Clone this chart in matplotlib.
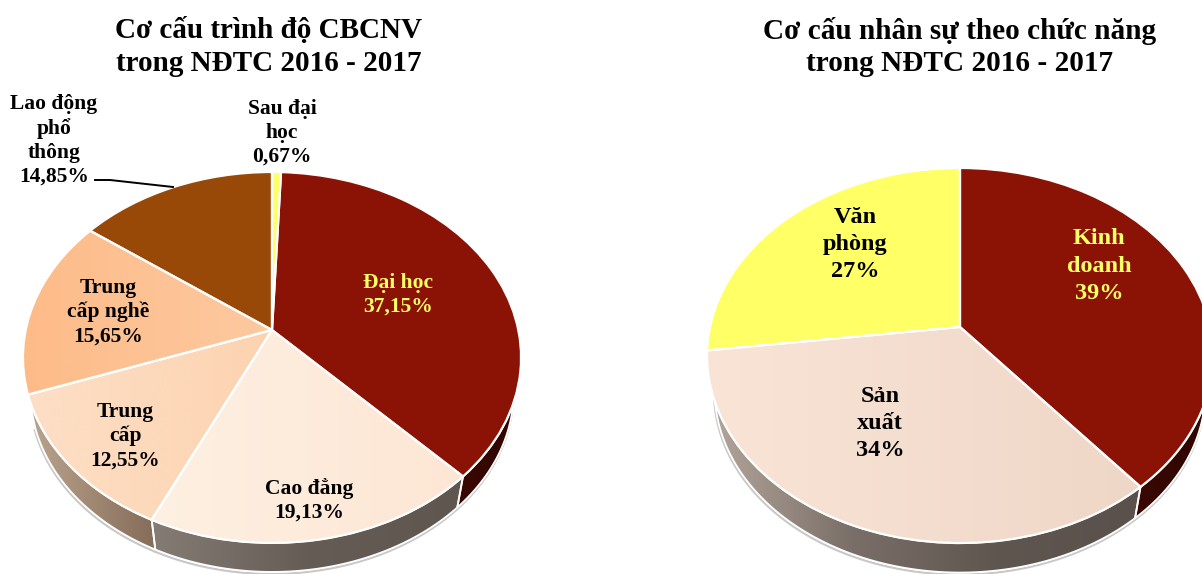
import numpy as np
import matplotlib
matplotlib.use("Agg")
import matplotlib.pyplot as plt
from matplotlib.colors import LinearSegmentedColormap
from matplotlib.patches import Polygon
from matplotlib.transforms import Transform

plt.rcParams['font.family'] = ['Liberation Serif', 'DejaVu Serif']

# left pie
edu_names = ['Sau đại\nhọc', 'Đại học', 'Cao đẳng', 'Trung\ncấp', 'Trung\ncấp nghề', 'Lao động\nphổ\nthông']
edu_values = [0.67, 37.15, 19.13, 12.55, 15.65, 14.85]
edu_texts = ['0,67%', '37,15%', '19,13%', '12,55%', '15,65%', '14,85%']

# right pie
job_names = ['Kinh\ndoanh', 'Sản\nxuất', 'Văn\nphòng']
job_values = [39, 34, 27]
job_texts = ['39%', '34%', '27%']

title_left = 'Cơ cấu trình độ CBCNV\ntrong NĐTC 2016 - 2017'
title_right = 'Cơ cấu nhân sự theo chức năng\ntrong NĐTC 2016 - 2017'

# top face gradients, left and right colour of each slice
edu_top = [('#ffff66', '#ffff66'), ('#8b1305', '#8b1305'), ('#fef0e2', '#fde6d4'),
           ('#fddfc6', '#fdd3b0'), ('#fdbb88', '#fdc9a0'), ('#984807', '#984807')]
job_top = [('#8b1305', '#8b1305'), ('#f9e4d6', '#efd7c7'), ('#ffff66', '#ffff66')]

# side wall gradients
edu_wall = [None, ('#3a0800', '#2e0600'), ('#857c74', '#655c56', '#5f5650'), ('#bca58f', '#846c58'), None, None]
job_wall = [('#3a0800', '#2e0600'), ('#b5a79c', '#7a6f68', '#5f5650', '#5a514c'), None]

edu_label_xy = [(282, 133), (398, 295), (309, 500.5), (125, 436), (108, 312), (54, 140)]
job_label_xy = [(1099, 266), (880, 423.5), (855, 244.5)]


class Tilt(Transform):
    # perspective view of the unit disc, result in pixels
    input_dims = 2
    output_dims = 2

    def __init__(self, cx, cy, rx, ry, k):
        super().__init__()
        self.cx, self.cy, self.rx, self.ry, self.k = cx, cy, rx, ry, k

    def transform_non_affine(self, values):
        values = np.asarray(values, dtype=float)
        w = 1 + self.k * values[:, 1]
        return np.column_stack([self.cx + self.rx * values[:, 0] / w,
                                self.cy - self.ry * values[:, 1] / w])


def gradient(ax, clip, cols, x0, x1, y0, y1, zorder):
    cmap = LinearSegmentedColormap.from_list('g', list(cols))
    im = ax.imshow(np.linspace(0, 1, 256)[None, :], cmap=cmap, extent=(x0, x1, y1, y0),
                   aspect='auto', zorder=zorder, interpolation='bilinear')
    im.set_clip_path(clip)


def draw_pie(ax, values, top_cols, wall_cols, cx, cy, rx, ry, k, depth):
    top = Tilt(cx, cy, rx, ry, k)
    low = Tilt(cx, cy + depth, rx * 0.97, ry * 0.97, k)

    # side walls, only the part of each slice facing the viewer
    edges = 90 - np.concatenate([[0], np.cumsum(values)]) / np.sum(values) * 360
    for i, cols in enumerate(wall_cols):
        if cols is None:
            continue
        t = np.radians(np.linspace(edges[i], edges[i + 1], 120))
        t = t[np.sin(t) < 0.05]
        disc = np.column_stack([np.cos(t), np.sin(t)])
        a = top.transform(disc)
        b = low.transform(disc)
        ax.plot(b[:, 0] - 0.5, b[:, 1] + 2, color='#c8c8c8', lw=1.6, zorder=1)
        wall = Polygon(np.vstack([a, b[::-1]]), closed=True, facecolor='none',
                       edgecolor='none', transform=ax.transData)
        ax.add_patch(wall)
        gradient(ax, wall, cols, min(a[:, 0].min(), b[:, 0].min()),
                 max(a[:, 0].max(), b[:, 0].max()), cy, cy + 300, 2)
        outline = Polygon(np.vstack([a, b[::-1]]), closed=True, fill=False,
                          edgecolor='white', lw=1.3, zorder=3, transform=ax.transData)
        ax.add_patch(outline)

    # top face
    wedges, _ = ax.pie(values, startangle=90, counterclock=False, colors=[c[0] for c in top_cols],
                       wedgeprops={'linewidth': 0, 'zorder': 4})
    frames, _ = ax.pie(values, startangle=90, counterclock=False,
                       wedgeprops={'fill': False, 'edgecolor': 'white', 'linewidth': 1.6, 'zorder': 6})
    for w in list(wedges) + list(frames):
        w.set_transform(top + ax.transData)
    for w, cols in zip(wedges, top_cols):
        if cols[0] != cols[1]:
            ext = w.get_transform().transform(w.get_path().vertices)
            # get_transform ends in display space, the gradient spans the slice in pixels
            ext = ax.transData.inverted().transform(ext)
            gradient(ax, w, cols, ext[:, 0].min(), ext[:, 0].max(), cy - 200, cy + 250, 5)


fig = plt.figure(figsize=(12.02, 5.74), dpi=100)
ax = fig.add_axes([0, 0, 1, 1])

draw_pie(ax, edu_values, edu_top, edu_wall, 272, 330, 246.3, 181.4, 0.148, 35.4)
draw_pie(ax, job_values, job_top, job_wall, 960, 327, 250, 183.2, 0.152, 36)

ax.set_aspect('auto')
ax.set_xlim(0, 1202)
ax.set_ylim(574, 0)
ax.axis('off')

ax.text(269, 47, title_left, ha='center', va='center', fontsize=21, fontweight='bold', linespacing=1.26)
ax.text(960, 47, title_right, ha='center', va='center', fontsize=21.1, fontweight='bold', linespacing=1.26)

for i, (name, val, pos) in enumerate(zip(edu_names, edu_texts, edu_label_xy)):
    col = '#ffff66' if i == 1 else 'black'
    ax.text(pos[0], pos[1], name + '\n' + val, ha='center', va='center', color=col,
            fontsize=15.5, fontweight='bold', linespacing=1.26, zorder=8)

for i, (name, val, pos) in enumerate(zip(job_names, job_texts, job_label_xy)):
    col = '#ffff66' if i == 0 else 'black'
    ax.text(pos[0], pos[1], name + '\n' + val, ha='center', va='center', color=col,
            fontsize=17.5, fontweight='bold', linespacing=1.38, zorder=8)

# leader line of the Lao dong pho thong label
ax.plot([95, 110, 173], [180, 180, 187], color='black', lw=1.4, zorder=8)

plt.savefig('out.png', dpi=100)
